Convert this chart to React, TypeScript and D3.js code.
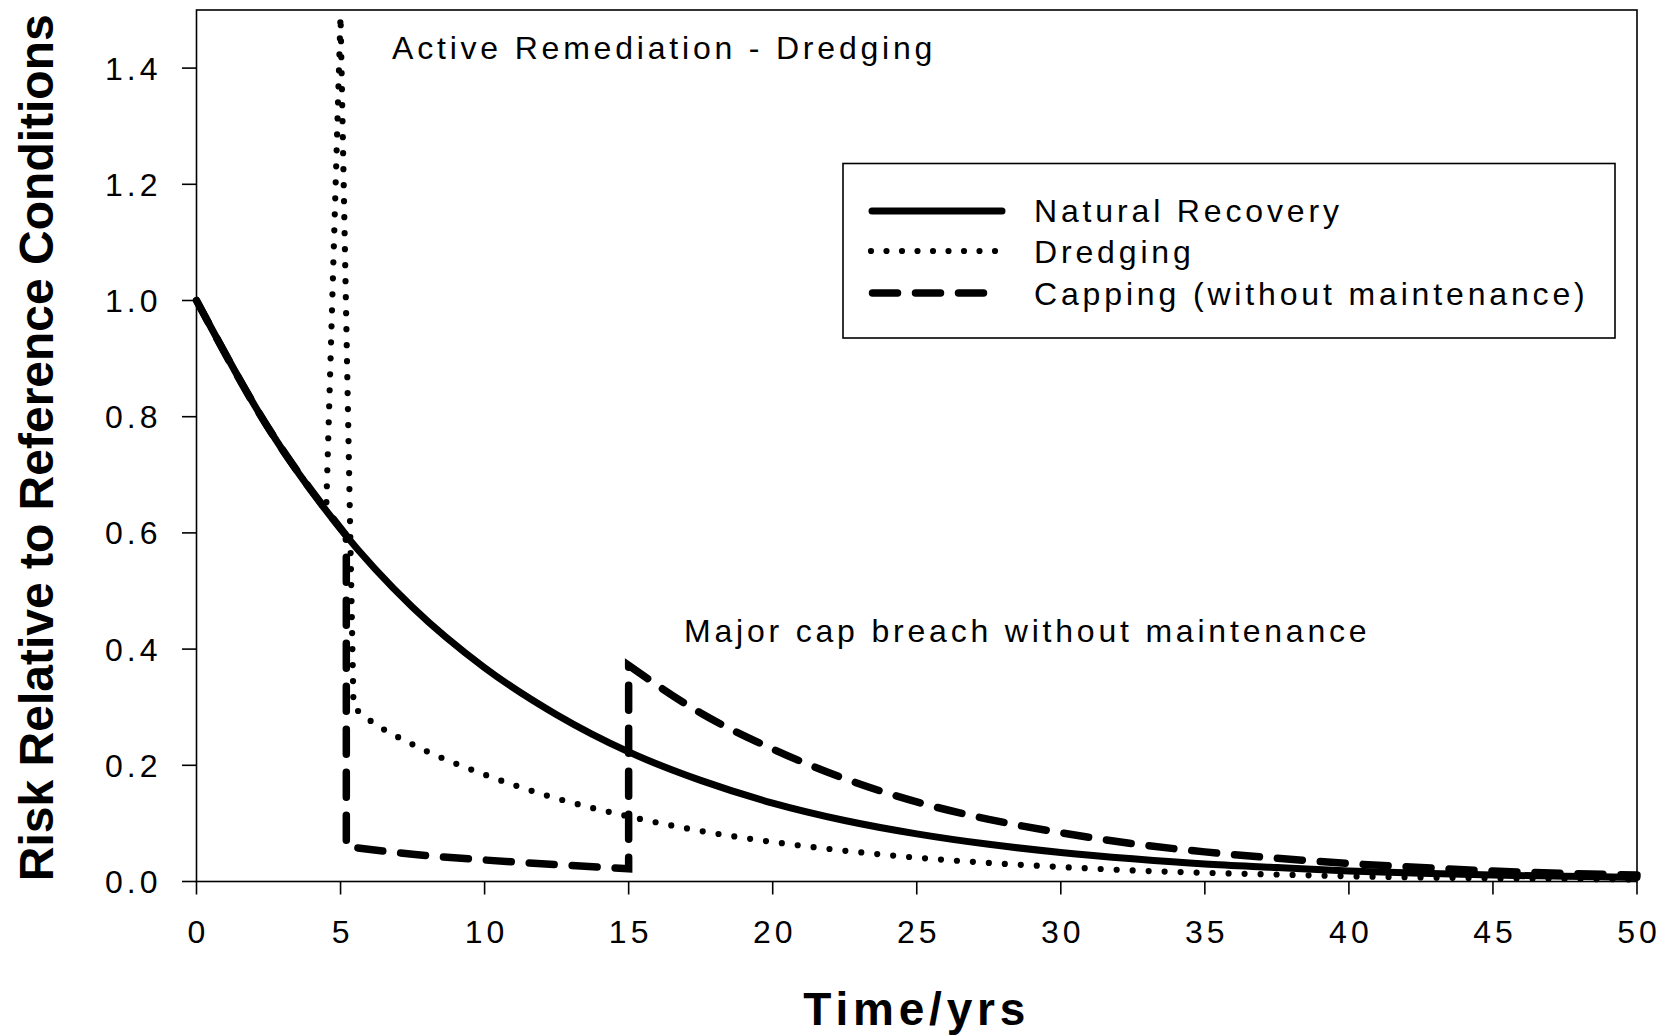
import React from "react";
import * as d3 from "d3";

// ---- data ----
const xTicks = [0, 5, 10, 15, 20, 25, 30, 35, 40, 45, 50];
const yTicks = [0, 0.2, 0.4, 0.6, 0.8, 1.0, 1.2, 1.4];

const naturalYears = [0, 2.5, 5, 7.5, 10, 12.5, 15, 17.5, 20, 22.5, 25, 27.5, 30, 32.5, 35, 37.5, 40, 42.5, 45, 47.5, 50];
const naturalRisk = [1.0, 0.78, 0.607, 0.472, 0.368, 0.287, 0.223, 0.174, 0.135, 0.105, 0.082, 0.064, 0.05, 0.039, 0.03, 0.024, 0.018, 0.014, 0.011, 0.009, 0.007];

const dredgingPreYears = [0, 2.5, 4.5];
const dredgingPreRisk = [1.0, 0.78, 0.638];
const dredgingSpikeYears = [4.5, 5.0, 5.45];
const dredgingSpikeRisk = [0.638, 1.49, 0.3];
const dredgingPostYears = [5.45, 6, 7.5, 10, 12.5, 15, 17.5, 20, 22.5, 25, 27.5, 30, 32.5, 35, 37.5, 40, 42.5, 45, 47.5, 50];
const dredgingPostRisk = [0.3, 0.278, 0.236, 0.184, 0.143, 0.112, 0.087, 0.068, 0.053, 0.041, 0.032, 0.025, 0.019, 0.015, 0.012, 0.009, 0.007, 0.0055, 0.0045, 0.0035];

const cappingPreYears = [0, 2.5, 5.2];
const cappingPreRisk = [1.0, 0.78, 0.595];
const cappingDropYears = [5.2, 5.2];
const cappingDropRisk = [0.595, 0.06];
const cappingLowYears = [5.2, 7.5, 10, 12.5, 15.0];
const cappingLowRisk = [0.06, 0.047, 0.037, 0.029, 0.022];
const cappingBreachYears = [15.0, 15.0];
const cappingBreachRisk = [0.022, 0.372];
const cappingPostYears = [15.0, 17.5, 20, 22.5, 25, 27.5, 30, 32.5, 35, 37.5, 40, 42.5, 45, 47.5, 50];
const cappingPostRisk = [0.372, 0.29, 0.228, 0.177, 0.137, 0.107, 0.084, 0.065, 0.051, 0.04, 0.031, 0.024, 0.018, 0.014, 0.011];

const legendLabels = ["Natural Recovery", "Dredging", "Capping (without maintenance)"];
const annotationTexts = ["Active Remediation - Dredging", "Major cap breach without maintenance"];

const FONT = "'Liberation Sans', Arial, Helvetica, sans-serif";

export default function App() {
  const W = 1663;
  const H = 1036;
  const x = d3.scaleLinear().domain([0, 50]).range([196.5, 1637]);
  const y = d3.scaleLinear().domain([0, 1.5]).range([881.5, 10]);

  const mono = d3
    .line<[number, number]>()
    .x((d) => x(d[0]))
    .y((d) => y(d[1]))
    .curve(d3.curveMonotoneX);
  const lin = d3
    .line<[number, number]>()
    .x((d) => x(d[0]))
    .y((d) => y(d[1]))
    .curve(d3.curveLinear);

  const zip = (a: number[], b: number[]) => a.map((v, i) => [v, b[i]] as [number, number]);
  const join = (parts: string[]) =>
    parts.map((p, i) => (i === 0 ? p : p.replace(/^M/, "L"))).join("");

  const naturalPath = mono(zip(naturalYears, naturalRisk)) || "";
  const dredgingPath = join([
    mono(zip(dredgingPreYears, dredgingPreRisk)) || "",
    lin(zip(dredgingSpikeYears, dredgingSpikeRisk)) || "",
    mono(zip(dredgingPostYears, dredgingPostRisk)) || "",
  ]);
  const cappingPath = join([
    mono(zip(cappingPreYears, cappingPreRisk)) || "",
    lin(zip(cappingDropYears, cappingDropRisk)) || "",
    mono(zip(cappingLowYears, cappingLowRisk)) || "",
    lin(zip(cappingBreachYears, cappingBreachRisk)) || "",
    mono(zip(cappingPostYears, cappingPostRisk)) || "",
  ]);

  const fmt = d3.format(".1f");
  const [x0, x1] = x.range();
  const [yb, yt] = y.range();

  const solidStyle = { stroke: "#000", strokeWidth: 7, fill: "none", strokeLinecap: "round" as const, strokeLinejoin: "round" as const };
  const dotStyle = { stroke: "#000", strokeWidth: 6.2, fill: "none", strokeLinecap: "round" as const, strokeDasharray: "0 16" };
  const dashStyle = { stroke: "#000", strokeWidth: 7.5, fill: "none", strokeLinecap: "round" as const, strokeDasharray: "25 18" };

  const legendY = [211, 251, 293];
  const legendTextY = [222, 263, 305];

  return (
    <svg
      width={W}
      height={H}
      viewBox={`0 0 ${W} ${H}`}
      style={{ position: "absolute", left: 0, top: 0, display: "block", background: "#fff" }}
      fontFamily={FONT}
    >
      <rect x={0} y={0} width={W} height={H} fill="#fff" />

      {/* data lines */}
      <path d={naturalPath} {...solidStyle} />
      <path d={dredgingPath} {...dotStyle} />
      <path d={cappingPath} {...dashStyle} />

      {/* frame */}
      <rect x={x0} y={yt} width={x1 - x0} height={yb - yt} fill="none" stroke="#000" strokeWidth={1.6} />

      {/* y ticks */}
      {yTicks.map((t) => (
        <g key={"y" + t}>
          <line x1={x0 - 14.5} x2={x0} y1={y(t)} y2={y(t)} stroke="#000" strokeWidth={1.6} />
          <text x={x0 - 35} y={y(t) + 11.5} textAnchor="end" fontSize={32} letterSpacing={4}>
            {fmt(t)}
          </text>
        </g>
      ))}

      {/* x ticks */}
      {xTicks.map((t) => (
        <g key={"x" + t}>
          <line x1={x(t)} x2={x(t)} y1={yb} y2={yb + 13} stroke="#000" strokeWidth={1.6} />
          <text x={x(t) + 2} y={943} textAnchor="middle" fontSize={32} letterSpacing={4}>
            {String(t)}
          </text>
        </g>
      ))}

      {/* axis titles */}
      <text
        transform={`translate(53, ${(yb + yt) / 2 + 2}) rotate(-90)`}
        textAnchor="middle"
        fontSize={48}
        fontWeight="bold"
      >
        Risk Relative to Reference Conditions
      </text>
      <text x={(x0 + x1) / 2} y={1025} textAnchor="middle" fontSize={46} fontWeight="bold" letterSpacing={4.8}>
        Time/yrs
      </text>

      {/* annotations */}
      <text x={392} y={59} fontSize={32} letterSpacing={3.8}>
        {annotationTexts[0]}
      </text>
      <text x={684} y={642} fontSize={32} letterSpacing={3.8}>
        {annotationTexts[1]}
      </text>

      {/* legend */}
      <rect x={843} y={163.5} width={772} height={174.5} fill="#fff" stroke="#000" strokeWidth={1.6} />
      <line x1={872} x2={1002} y1={legendY[0]} y2={legendY[0]} {...solidStyle} />
      <line x1={871} x2={996} y1={legendY[1]} y2={legendY[1]} {...dotStyle} strokeDasharray="0 15.5" />
      <line x1={872.5} x2={984} y1={legendY[2]} y2={legendY[2]} {...dashStyle} />
      {legendLabels.map((l, i) => (
        <text key={l} x={1034} y={legendTextY[i]} fontSize={32} letterSpacing={3.85}>
          {l}
        </text>
      ))}
    </svg>
  );
}
